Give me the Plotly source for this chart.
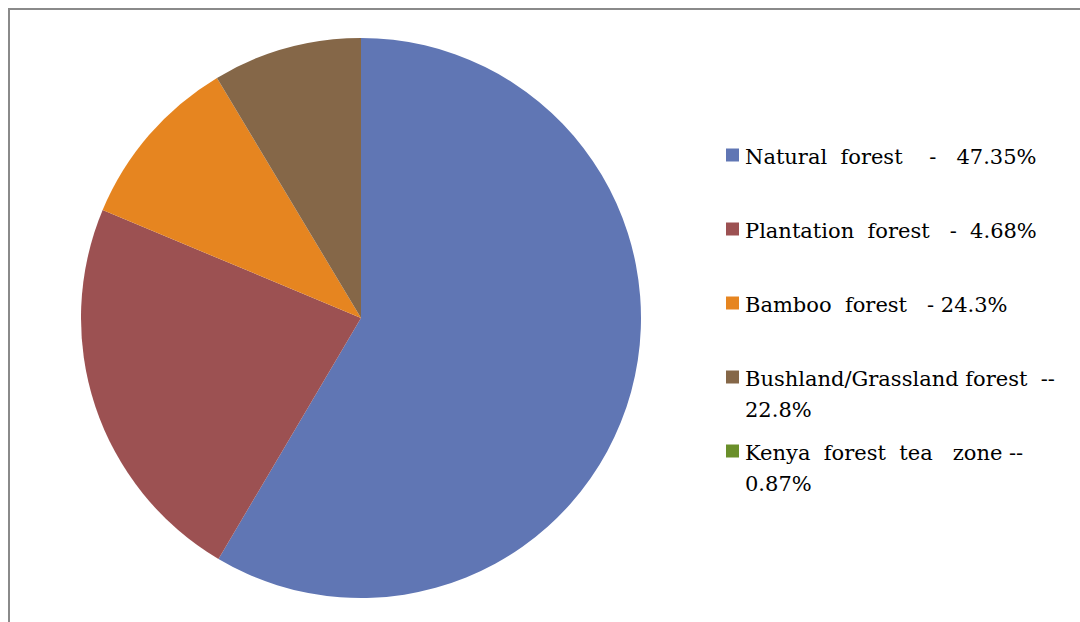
import plotly.graph_objects as go

# Forest cover categories and their shares (slice sizes)
categories = [
    "Natural  forest    -   47.35%",
    "Plantation  forest   -  4.68%",
    "Bamboo  forest   - 24.3%",
    "Bushland/Grassland forest  --<br>22.8%",
    "Kenya  forest  tea   zone --<br>0.87%",
]
shares = [58.5, 22.8, 10.1, 8.6, 0.0]

slice_colors = ["#6076B4", "#9C5152", "#E68520", "#856748", "#6A8F2A"]

W, H = 1080, 622


def px(x):
    return x / W


def py(y):
    return 1 - y / H


fig = go.Figure()

# Pie: center (361, 318), radius 280 px
cx, cy, r = 361, 318, 280
fig.add_trace(go.Pie(
    labels=categories,
    values=shares,
    sort=False,
    direction="clockwise",
    rotation=0,
    marker=dict(colors=slice_colors, line=dict(width=0)),
    textinfo="none",
    hoverinfo="label+percent",
    showlegend=False,
    domain=dict(x=[px(cx - r), px(cx + r)], y=[py(cy + r), py(cy - r)]),
))

# Chart frame (top and left edges visible)
fig.add_shape(type="rect", xref="paper", yref="paper",
              x0=px(9), x1=1.02, y0=-0.02, y1=py(9),
              line=dict(color="#8A8A8A", width=2), fillcolor="rgba(0,0,0,0)")

# Legend drawn beside the pie, one text line per annotation
first_baseline = 165
step = 74
line_gap = 31
sq = 13
fsize = 21
serif = "DejaVu Serif"
for i, (name, col) in enumerate(zip(categories, slice_colors)):
    base = first_baseline + i * step
    yc = base - 10
    fig.add_shape(type="rect", xref="paper", yref="paper",
                  x0=px(726), x1=px(726 + sq), y0=py(yc + sq / 2), y1=py(yc - sq / 2),
                  line=dict(width=0), fillcolor=col)
    for j, part in enumerate(name.split("<br>")):
        fig.add_annotation(xref="paper", yref="paper", x=px(743),
                           y=py(base + j * line_gap - 22),
                           xanchor="left", yanchor="top", align="left",
                           text=part, showarrow=False,
                           font=dict(family=serif, size=fsize, color="#000000"))

fig.update_layout(
    width=W, height=H,
    margin=dict(l=0, r=0, t=0, b=0),
    paper_bgcolor="white",
    plot_bgcolor="white",
    font=dict(family=serif),
)

fig.write_html("out.html")
